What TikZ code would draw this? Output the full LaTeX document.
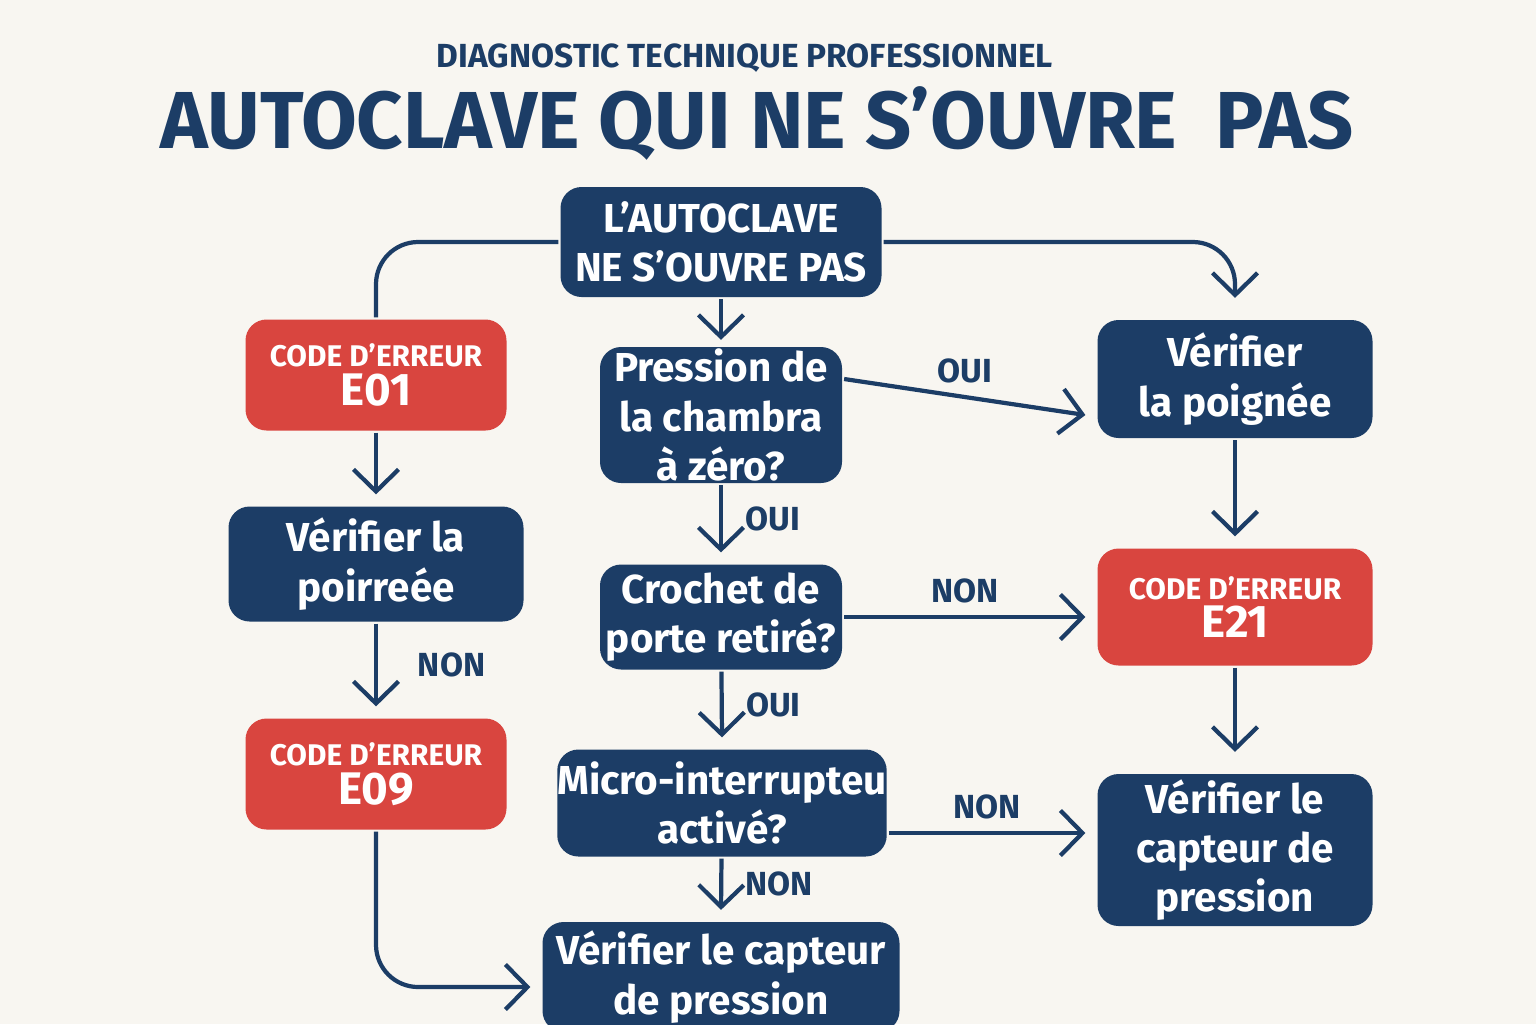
\documentclass[tikz,border=0pt]{standalone}
\usepackage{fontspec}
\setmainfont{Fira Sans}
\usetikzlibrary{arrows.meta}
\definecolor{navy}{HTML}{1C3D66}
\definecolor{alarm}{HTML}{D9453F}
\definecolor{paper}{HTML}{F8F6F1}

\begin{document}
\begin{tikzpicture}[>={Straight Barb[length=2.2mm,width=4.5mm]},
        line width=1.2pt,
        flow/.style={draw=navy,->,rounded corners=12pt},
        stepbox/.style={fill=navy,text=white,rounded corners=6pt,align=center,
          font=\bfseries\fontsize{11.5}{14}\selectfont,inner sep=0pt},
        errbox/.style={fill=alarm,text=white,rounded corners=6pt,align=center,inner sep=0pt},
        lab/.style={text=navy,font=\bfseries\fontsize{9.5}{11}\selectfont}]

  \fill[paper] (0,0) rectangle (15.36,-10.24);
  \useasboundingbox (0,0) rectangle (15.36,-10.24);

  \node[text=navy,font=\bfseries\fontsize{9.5}{11}\selectfont] (kicker) at (7.45,-0.58) {DIAGNOSTIC TECHNIQUE PROFESSIONNEL};
  \node[text=navy,font=\bfseries\fontsize{23}{26}\selectfont] (title) at (7.57,-1.23) {AUTOCLAVE QUI NE S’OUVRE\ \ PAS};

  \node[stepbox,minimum width=3.21cm,minimum height=1.10cm] (start) at (7.21,-2.42) {L’AUTOCLAVE\\NE S’OUVRE PAS};
  \node[errbox,minimum width=2.61cm,minimum height=1.11cm] (e01) at (3.76,-3.75)
    {{\bfseries\fontsize{8.5}{10}\selectfont CODE D’ERREUR}\\[-1pt]{\bfseries\fontsize{13}{15}\selectfont E01}};
  \node[stepbox,minimum width=2.42cm,minimum height=1.36cm] (q1) at (7.21,-4.15) {Pression de\\la chambra\\à zéro?};
  \node[stepbox,minimum width=2.75cm,minimum height=1.18cm] (handle) at (12.35,-3.79) {Vérifier\\la poignée};
  \node[stepbox,minimum width=2.95cm,minimum height=1.15cm] (seal) at (3.76,-5.64) {Vérifier la\\poirreée};
  \node[stepbox,minimum width=2.42cm,minimum height=1.05cm] (q2) at (7.21,-6.17) {Crochet de\\porte retiré?};
  \node[errbox,minimum width=2.75cm,minimum height=1.17cm] (e21) at (12.35,-6.07)
    {{\bfseries\fontsize{8.5}{10}\selectfont CODE D’ERREUR}\\[-1pt]{\bfseries\fontsize{13}{15}\selectfont E21}};
  \node[errbox,minimum width=2.61cm,minimum height=1.11cm] (e09) at (3.76,-7.74)
    {{\bfseries\fontsize{8.5}{10}\selectfont CODE D’ERREUR}\\[-1pt]{\bfseries\fontsize{13}{15}\selectfont E09}};
  \node[stepbox,minimum width=2.92cm,minimum height=1.07cm] (q3) at (7.22,-8.03) {Micro-interrupteu\\activé?};
  \node[stepbox,minimum width=2.75cm,minimum height=1.52cm] (sensorR) at (12.35,-8.50) {Vérifier le\\capteur de\\pression};
  \node[stepbox,minimum width=3.57cm,minimum height=1.10cm] (sensorB) at (7.21,-9.77) {Vérifier le capteur\\de pression};

  % connectors
  \draw[flow,-] (start.west) -| (e01.north);
  \draw[flow] (start.east) -| ([yshift=2mm]handle.north);
  \draw[flow] (start) -- ([yshift=0.5mm]q1.north);
  \draw[flow] (e01) -- ([yshift=1mm]seal.north);
  \draw[flow] (q1.east|-handle) -- node[lab,above,pos=0.5] {OUI} ([xshift=-1mm]handle.west|-q1.east);
  \draw[flow] (handle) -- ([yshift=1mm]e21.north);
  \draw[flow] (q1) -- node[lab,right=3pt] {OUI} ([yshift=1mm]q2.north);
  \draw[flow] (q2.east) -- node[lab,above] {NON} ([xshift=-1mm]e21.west|-q2.east);
  \draw[flow] (seal) -- node[lab,right=8pt] {NON} ([yshift=1mm]e09.north);
  \draw[flow] (q2) -- node[lab,right=3pt] {OUI} ([yshift=1mm]q3.north);
  \draw[flow] (e21) -- ([yshift=2mm]sensorR.north);
  \draw[flow] ([yshift=-3mm]q3.east) -- node[lab,above] {NON} ([xshift=-1mm,yshift=-3mm]sensorR.west|-q3.east);
  \draw[flow] (q3) -- node[lab,right=3pt] {NON} ([yshift=1mm]sensorB.north);
  \draw[flow] (e09.south) |- ([xshift=-1mm,yshift=-1mm]sensorB.west);
\end{tikzpicture}
\end{document}
